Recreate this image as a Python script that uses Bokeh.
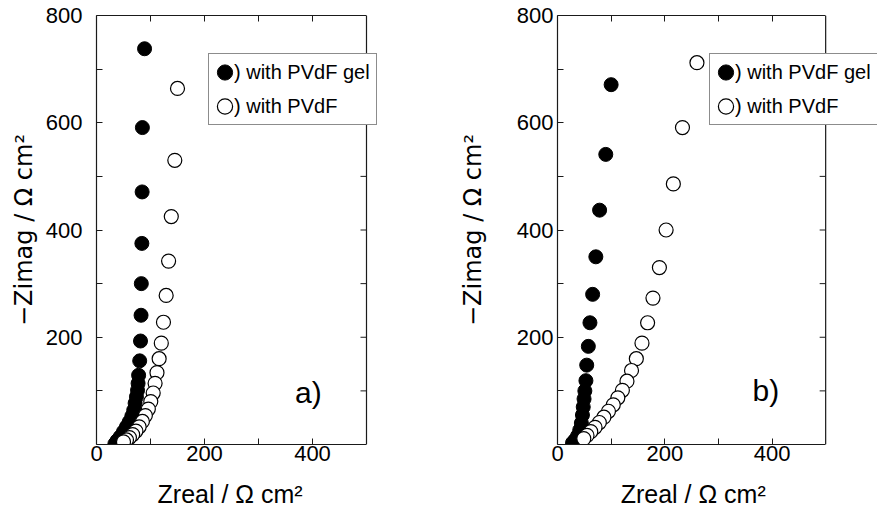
import math
from bokeh.plotting import figure
from bokeh.layouts import row
from bokeh.models import Range1d, FixedTicker, LinearAxis, Legend, LegendItem, Label, Span
from bokeh.embed import file_html
from bokeh.resources import INLINE

# ---------------- data ----------------
a_gel_x = [89, 85, 84.5, 84, 83, 82.5, 81.5, 80, 78, 77, 76, 74, 71.5, 69, 65.5, 60.5, 55.5, 50, 44, 38, 34]
a_gel_y = [738, 591, 471, 375, 300, 241, 193, 156, 129, 114, 101, 89, 77, 64, 53, 42, 33, 24, 14.5, 7, 1]
a_pvdf_x = [150, 145, 138.5, 133.5, 129, 124, 120, 116, 112, 108.5, 105, 100.5, 96, 90.5, 85, 79, 73, 67, 61, 55.5, 50]
a_pvdf_y = [664, 530, 425, 342, 278, 228, 189, 160, 134, 114, 96, 80, 66, 54, 43, 33, 25, 18.5, 13, 8.5, 5]

b_gel_x = [100, 90, 78.5, 71.5, 65.5, 60.5, 57.5, 54.5, 53, 51, 49.5, 48, 46.5, 44.5, 41.5, 37.5, 32.5, 28]
b_gel_y = [671, 541, 437, 350, 280, 227, 183, 148, 119, 100, 85, 70, 55, 40, 27, 16, 8, 3]
b_pvdf_x = [260, 233, 216, 202.5, 190, 178, 168, 157.5, 147, 138, 129.5, 121, 112.5, 104, 95, 86.5, 78, 70, 62, 55, 49]
b_pvdf_y = [712, 591, 486, 400, 330, 273, 227, 189, 160, 138, 118, 101, 87, 74, 62, 51, 41, 32, 24, 17, 11]

legend_labels = [") with PVdF gel", ") with PVdF"]
panel_tags = ["a)", "b)"]
x_label_texts = ["Zreal / \u03a9  cm\u00b2", "Zreal / \u03a9 cm\u00b2"]
y_label_text = "\u2212Zimag / \u03a9 cm\u00b2"
x_major = [0, 200, 400]
x_minor = [100, 300]
y_major = [200, 400, 600, 800]
y_minor = [100, 300, 500, 700]
top_ticks = [100, 200, 300, 400]
right_ticks = [100, 200, 300, 400, 500, 600, 700]
X_MAX = 500
Y_MAX = 800

FONT = "Liberation Sans"
YFONT = "DejaVu Sans"
INK = "#1a1a1a"
NBSP = "\u00a0"


def make_panel(gx, gy, px, py, tag, xlab, width, frame_left, frame_right, area_right,
               ytick_standoff, ylab_standoff, legend_x, tag_pos, label_pad):
    # the plotting area reaches past the drawn box so the legend can overhang it
    x_end = X_MAX * (area_right - frame_left) / (frame_right - frame_left)
    p = figure(width=width, height=515, x_range=Range1d(0, x_end), y_range=Range1d(0, Y_MAX),
               output_backend="svg", toolbar_location=None,
               min_border_left=frame_left, min_border_right=width - area_right,
               min_border_top=15, min_border_bottom=71)
    p.xgrid.visible = False
    p.ygrid.visible = False
    p.outline_line_color = None
    p.background_fill_color = "white"
    p.border_fill_color = "white"

    xa = p.xaxis[0]
    xa.ticker = FixedTicker(ticks=x_major, minor_ticks=x_minor)
    xa.bounds = (0, X_MAX)
    ya = p.yaxis[0]
    ya.ticker = FixedTicker(ticks=y_major, minor_ticks=y_minor)
    for ax in (xa, ya):
        ax.major_tick_in = 6
        ax.major_tick_out = 0
        ax.minor_tick_in = 6
        ax.minor_tick_out = 0
        ax.major_tick_line_color = INK
        ax.minor_tick_line_color = INK
        ax.axis_line_color = INK
        ax.axis_line_width = 1.2
        ax.major_label_text_font = FONT
        ax.major_label_text_font_size = "22px"
        ax.major_label_text_color = "black"
    xa.major_label_standoff = 1
    ya.major_label_standoff = ytick_standoff
    xa.axis_label = xlab + NBSP * label_pad
    xa.axis_label_text_font = FONT
    xa.axis_label_text_font_size = "25px"
    xa.axis_label_text_font_style = "normal"
    xa.axis_label_text_color = "black"
    xa.axis_label_standoff = 16
    ya.axis_label = y_label_text
    ya.axis_label_text_font = YFONT
    ya.axis_label_text_font_size = "24px"
    ya.axis_label_text_font_style = "normal"
    ya.axis_label_text_color = "black"
    ya.axis_label_standoff = ylab_standoff

    # top edge of the box with inward ticks
    top = LinearAxis(ticker=FixedTicker(ticks=[], minor_ticks=top_ticks), bounds=(0, X_MAX))
    top.major_label_standoff = 0
    top.major_tick_in = 0
    top.major_tick_out = 0
    top.minor_tick_in = 6
    top.minor_tick_out = 0
    top.axis_line_color = INK
    top.axis_line_width = 1.2
    top.minor_tick_line_color = INK
    p.add_layout(top, "above")

    # right edge of the box with inward ticks
    p.add_layout(Span(location=X_MAX, dimension="height", line_color=INK, line_width=1.2))
    p.ray(x=[X_MAX] * len(right_ticks), y=right_ticks, length=6, length_units="screen",
          angle=math.pi, line_color=INK, line_width=1)

    r_gel = p.ellipse(x=gx, y=gy, width=14, height=14, width_units="screen",
                      height_units="screen", fill_color="black", line_color="black",
                      line_width=1)
    r_pvdf = p.ellipse(x=px, y=py, width=14, height=14, width_units="screen",
                       height_units="screen", fill_color="white", line_color="black",
                       line_width=1.2)

    legend = Legend(items=[LegendItem(label=legend_labels[0], renderers=[r_gel]),
                           LegendItem(label=legend_labels[1], renderers=[r_pvdf])],
                    location=(legend_x, 319))
    legend.glyph_width = 19
    legend.glyph_height = 24
    legend.label_height = 24
    legend.label_standoff = 0
    legend.spacing = 10
    legend.padding = 6
    legend.margin = 0
    legend.label_text_font = FONT
    legend.label_text_font_size = "20px"
    legend.label_text_color = "black"
    legend.border_line_color = INK
    legend.border_line_width = 1.2
    legend.background_fill_color = "white"
    legend.background_fill_alpha = 1
    p.add_layout(legend, "center")

    p.add_layout(Label(x=tag_pos[0], y=tag_pos[1], text=tag, text_font=FONT,
                       text_font_size="30px", text_color="black",
                       text_align="center", text_baseline="middle"))
    return p


pa = make_panel(a_gel_x, a_gel_y, a_pvdf_x, a_pvdf_y, panel_tags[0], x_label_texts[0],
                455, 96, 366, 384, 14, 5, 112, (392.5, 97), 2)
pb = make_panel(b_gel_x, b_gel_y, b_pvdf_x, b_pvdf_y, panel_tags[1], x_label_texts[1],
                422, 101, 370, 422, 4, 27, 152, (388.5, 100.5), 7)

layout = row(pa, pb)
open("out.html", "w").write(file_html(layout, INLINE))
